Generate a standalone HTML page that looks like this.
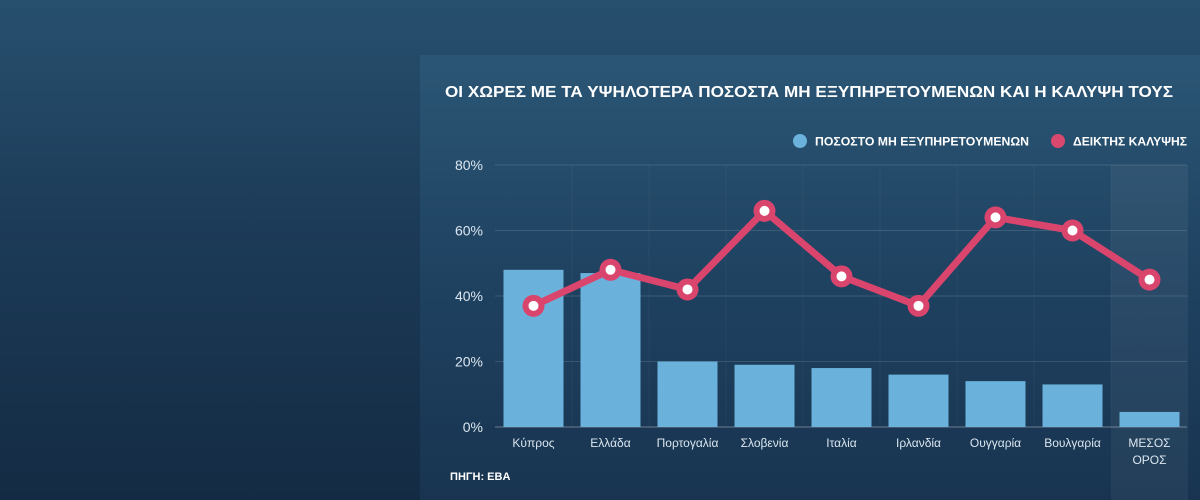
<!DOCTYPE html>
<html><head><meta charset="utf-8">
<style>
html,body{margin:0;padding:0;}
body{width:1200px;height:500px;overflow:hidden;background:linear-gradient(180deg,#27506e 0%,#1c3b58 45%,#142b43 100%);font-family:"Liberation Sans","DejaVu Sans",sans-serif;position:relative;}
#panel{position:absolute;left:420px;top:55px;width:780px;height:445px;background:linear-gradient(180deg,#2b5675 0%,#1f4261 50%,#183450 100%);}
svg{position:absolute;left:0;top:0;}
</style></head>
<body>
<div id="panel"></div>
<svg id="chart" width="1200" height="500">
<text x="445" y="97" fill="#fff" font-size="15.5" font-weight="bold" textLength="728" lengthAdjust="spacingAndGlyphs">ΟΙ ΧΩΡΕΣ ΜΕ ΤΑ ΥΨΗΛΟΤΕΡΑ ΠΟΣΟΣΤΑ ΜΗ ΕΞΥΠΗΡΕΤΟΥΜΕΝΩΝ ΚΑΙ Η ΚΑΛΥΨΗ ΤΟΥΣ</text>
<g>
<circle cx="800" cy="141" r="7" fill="#6bb3dd"/>
<text x="815" y="145.5" fill="#fff" font-size="11.5" font-weight="bold" textLength="214" lengthAdjust="spacingAndGlyphs">ΠΟΣΟΣΤΟ ΜΗ ΕΞΥΠΗΡΕΤΟΥΜΕΝΩΝ</text>
<circle cx="1058" cy="141" r="7" fill="#d9496f"/>
<text x="1073" y="145.5" fill="#fff" font-size="11.5" font-weight="bold" textLength="114" lengthAdjust="spacingAndGlyphs">ΔΕΙΚΤΗΣ ΚΑΛΥΨΗΣ</text>
</g>
<g id="plot"></g>
<text x="450" y="480" fill="#fff" font-size="11" font-weight="bold">ΠΗΓΗ: ΕΒΑ</text>
</svg>
<script>
const categories=["Κύπρος","Ελλάδα","Πορτογαλία","Σλοβενία","Ιταλία","Ιρλανδία","Ουγγαρία","Βουλγαρία","ΜΕΣΟΣ|ΟΡΟΣ"];
const unservedPct=[48,47,20,19,18,16,14,13,4.6];
const coverageIdx=[37,48,42,66,46,37,64,60,45];
const yTicks=[0,20,40,60,80];
const yTickLabels=["0%","20%","40%","60%","80%"];

const NS="http://www.w3.org/2000/svg";
const g=document.getElementById("plot");
const x0=495,band=77,yBase=427,yTop=165,yMax=80;
const y=v=>yBase-(v/yMax)*(yBase-yTop);
const xc=i=>x0+band*i+band/2;
function mk(t,a){const e=document.createElementNS(NS,t);for(const k in a)e.setAttribute(k,a[k]);g.appendChild(e);return e;}

let hl=mk("rect",{x:x0+band*(categories.length-1),y:yTop,width:band,height:500-yTop,fill:"#ffffff",opacity:0.05});


for(let i=1;i<categories.length;i++){
  const s=mk("line",{x1:x0+band*i,x2:x0+band*i,y1:yTop,y2:yBase,stroke:"#ffffff","stroke-opacity":0.04});
  
  
}
yTicks.forEach((t,i)=>{
  const l=mk("line",{x1:x0,x2:1187,y1:y(t),y2:y(t),stroke:"#ffffff","stroke-opacity":i==0?0.35:0.13});
  
  
  const tx=mk("text",{x:483,y:y(t)+5,fill:"#dbe6ef","font-size":14,"text-anchor":"end"});
  tx.textContent=yTickLabels[i];
  
  
});
unservedPct.forEach((v,i)=>{
  const b=mk("rect",{x:xc(i)-30,y:y(v),width:60,height:yBase-y(v),fill:"#6ab2db"});
  
  
});
categories.forEach((c,i)=>{
  const parts=c.split("|");
  parts.forEach((p,j)=>{
    const t=mk("text",{x:xc(i),y:447+j*17,fill:"#dbe6ef","font-size":12,"text-anchor":"middle"});
    t.textContent=p;
    
    
  });
});
const pl=mk("polyline",{points:coverageIdx.map((v,i)=>xc(i)+","+y(v)).join(" "),fill:"none",stroke:"#d9456d","stroke-width":7,"stroke-linejoin":"round"});


coverageIdx.forEach((v,i)=>{
  const c=mk("circle",{cx:xc(i),cy:y(v),r:11,fill:"#d9456d"});
  
  
  const d=mk("circle",{cx:xc(i),cy:y(v),r:5,fill:"#ffffff"});
  
  
});
</script>
</body></html>
